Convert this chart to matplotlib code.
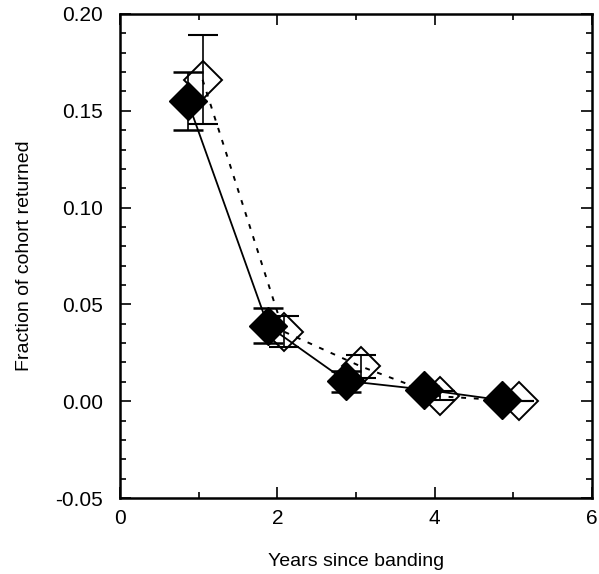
import matplotlib
matplotlib.use("Agg")
import matplotlib.pyplot as plt
from matplotlib.ticker import MultipleLocator, FormatStrFormatter

plt.rcParams['font.family'] = ['Liberation Sans', 'DejaVu Sans']
plt.rcParams['axes.unicode_minus'] = False

# Filled diamonds (solid line)
x_filled = [0.86, 1.88, 2.87, 3.87, 4.86]
y_filled = [0.155, 0.039, 0.0105, 0.006, 0.0005]
e_filled_lo = [0.015, 0.009, 0.006, 0.002, 0.0]
e_filled_hi = [0.015, 0.009, 0.005, 0.002, 0.0]

# Open diamonds (dashed line)
x_open = [1.05, 2.08, 3.06, 4.07, 5.07]
y_open = [0.166, 0.036, 0.018, 0.0025, 0.0]
e_open_lo = [0.023, 0.008, 0.006, 0.002, 0.0]
e_open_hi = [0.023, 0.008, 0.006, 0.003, 0.0]

fig = plt.figure(figsize=(5.99, 5.74), dpi=100)
ax = fig.add_axes([120/599, 76/574, (592-120)/599, (498-14)/574])

ax.plot(x_open, y_open, linestyle='none', marker='D', markersize=19,
        markerfacecolor='white', markeredgecolor='black', markeredgewidth=1.4, zorder=2)
ax.errorbar(x_open, y_open, yerr=[e_open_lo, e_open_hi], fmt='none',
            ecolor='black', elinewidth=1.2, capsize=10.5, capthick=1.5, zorder=3)
ax.plot(x_open, y_open, color='black', linestyle=(0, (2.5, 4)), lw=1.4, zorder=3)

ax.errorbar(x_filled, y_filled, yerr=[e_filled_lo, e_filled_hi], fmt='none',
            ecolor='black', elinewidth=1.2, capsize=10.5, capthick=1.8, zorder=4)
ax.plot(x_filled, y_filled, color='black', linestyle='-', lw=1.3, zorder=4)
ax.plot(x_filled, y_filled, linestyle='none', marker='D', markersize=19,
        markerfacecolor='black', markeredgecolor='black', zorder=5)

ax.set_xlim(0, 6)
ax.set_ylim(-0.05, 0.20)
ax.xaxis.set_major_locator(MultipleLocator(2))
ax.xaxis.set_minor_locator(MultipleLocator(1))
ax.yaxis.set_major_locator(MultipleLocator(0.05))
ax.yaxis.set_minor_locator(MultipleLocator(0.01))
ax.yaxis.set_major_formatter(FormatStrFormatter('%.2f'))
ax.tick_params(which='both', direction='in', top=True, right=True, labelsize=15)
ax.tick_params(axis='y', which='major', pad=12)
ax.tick_params(axis='x', which='major', pad=8)
ax.tick_params(which='major', length=8, width=1.2)
ax.tick_params(which='minor', length=4.5, width=1.2)
for s in ax.spines.values():
    s.set_linewidth(1.8)

ax.set_xlabel('Years since banding', fontsize=14, labelpad=18)
ax.set_ylabel('Fraction of cohort returned', fontsize=14, labelpad=16)

fig.savefig('out.png', dpi=100)
